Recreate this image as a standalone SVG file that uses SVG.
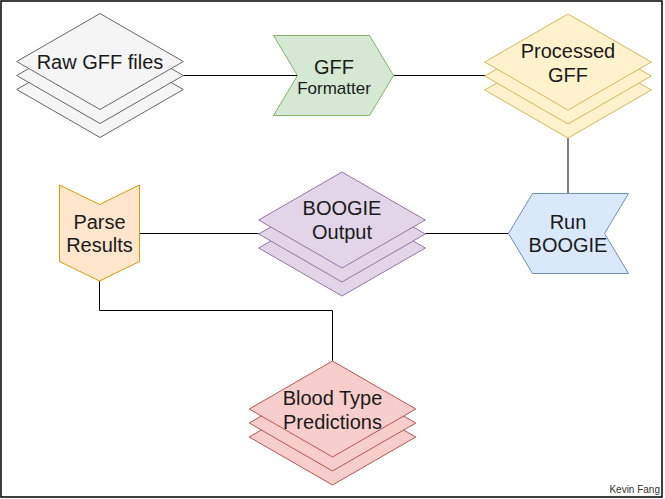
<svg xmlns="http://www.w3.org/2000/svg" xmlns:xlink="http://www.w3.org/1999/xlink" width="665" height="499" viewBox="0 0 665 499">
<style>
text{font-family:"Liberation Sans",Arial,Helvetica,sans-serif;fill:#1a1a1a;stroke:none;text-anchor:middle}
.t20{font-size:20px}
.t17{font-size:17px}
.conn{fill:none;stroke:#000;stroke-width:1}
.gray{fill:#f5f5f5;stroke:#666}
.green{fill:#d5e8d4;stroke:#82b366}
.yellow{fill:#fff2cc;stroke:#d6b656}
.blue{fill:#dae8fc;stroke:#6c8ebf}
.purple{fill:#e1d5e7;stroke:#9673a6}
.orange{fill:#ffe6cc;stroke:#d79b00}
.red{fill:#f8cecc;stroke:#b85450}
</style>
<defs>
<path id="dia" d="M0,-48 L83.3,0 L0,48 L-83.3,0 Z"/>
<g id="stack">
<use xlink:href="#dia" href="#dia" y="28"/>
<use xlink:href="#dia" href="#dia" y="14"/>
<use xlink:href="#dia" href="#dia" y="0"/>
</g>
</defs>
<rect x="1" y="1" width="661" height="496" fill="#fff" stroke="#000" stroke-width="1.5"/>
<g id="connectors">
<path class="conn" d="M183.3,75.5 H297"/>
<path class="conn" d="M393,75.5 H485"/>
<path class="conn" d="M568,138 V193.5"/>
<path class="conn" d="M508.5,233.5 H425.5"/>
<path class="conn" d="M258.5,233.5 H139.5"/>
<path class="conn" d="M99.5,281 V310.5 H332.5 V361"/>
</g>
<g id="raw-gff-files">
<use class="gray" xlink:href="#stack" href="#stack" x="100" y="61.5"/>
<text class="t20" x="100" y="68.5">Raw GFF files</text>
</g>
<g id="gff-formatter">
<path class="green" d="M273.5,35.5 H369.5 L393.5,75.5 L369.5,115.5 H273.5 L297.5,75.5 Z"/>
<text class="t20" x="334" y="73.5">GFF</text>
<text class="t17" x="334" y="93.5">Formatter</text>
</g>
<g id="processed-gff">
<use class="yellow" xlink:href="#stack" href="#stack" x="568" y="62"/>
<text class="t20" x="568" y="57.5">Processed</text>
<text class="t20" x="568" y="81.5">GFF</text>
</g>
<g id="run-boogie">
<path class="blue" d="M532.5,193.5 H628.5 L604.5,233.5 L628.5,273.5 H532.5 L508.5,233.5 Z"/>
<text class="t20" x="568" y="228.5">Run</text>
<text class="t20" x="568" y="252">BOOGIE</text>
</g>
<g id="boogie-output">
<use class="purple" xlink:href="#stack" href="#stack" x="342" y="220"/>
<text class="t20" x="342" y="215">BOOGIE</text>
<text class="t20" x="342" y="238.5">Output</text>
</g>
<g id="parse-results">
<path class="orange" d="M59.5,185 L99.5,204.5 L139.5,185 V261.5 L99.5,281 L59.5,261.5 Z"/>
<text class="t20" x="99.5" y="228.5">Parse</text>
<text class="t20" x="99.5" y="252">Results</text>
</g>
<g id="blood-type-predictions">
<use class="red" xlink:href="#stack" href="#stack" x="332.5" y="409"/>
<text class="t20" x="332.5" y="404.5">Blood Type</text>
<text class="t20" x="332.5" y="428.5">Predictions</text>
</g>
<text x="660" y="492.5" style="font-size:10px;text-anchor:end;fill:#333">Kevin Fang</text>
</svg>
